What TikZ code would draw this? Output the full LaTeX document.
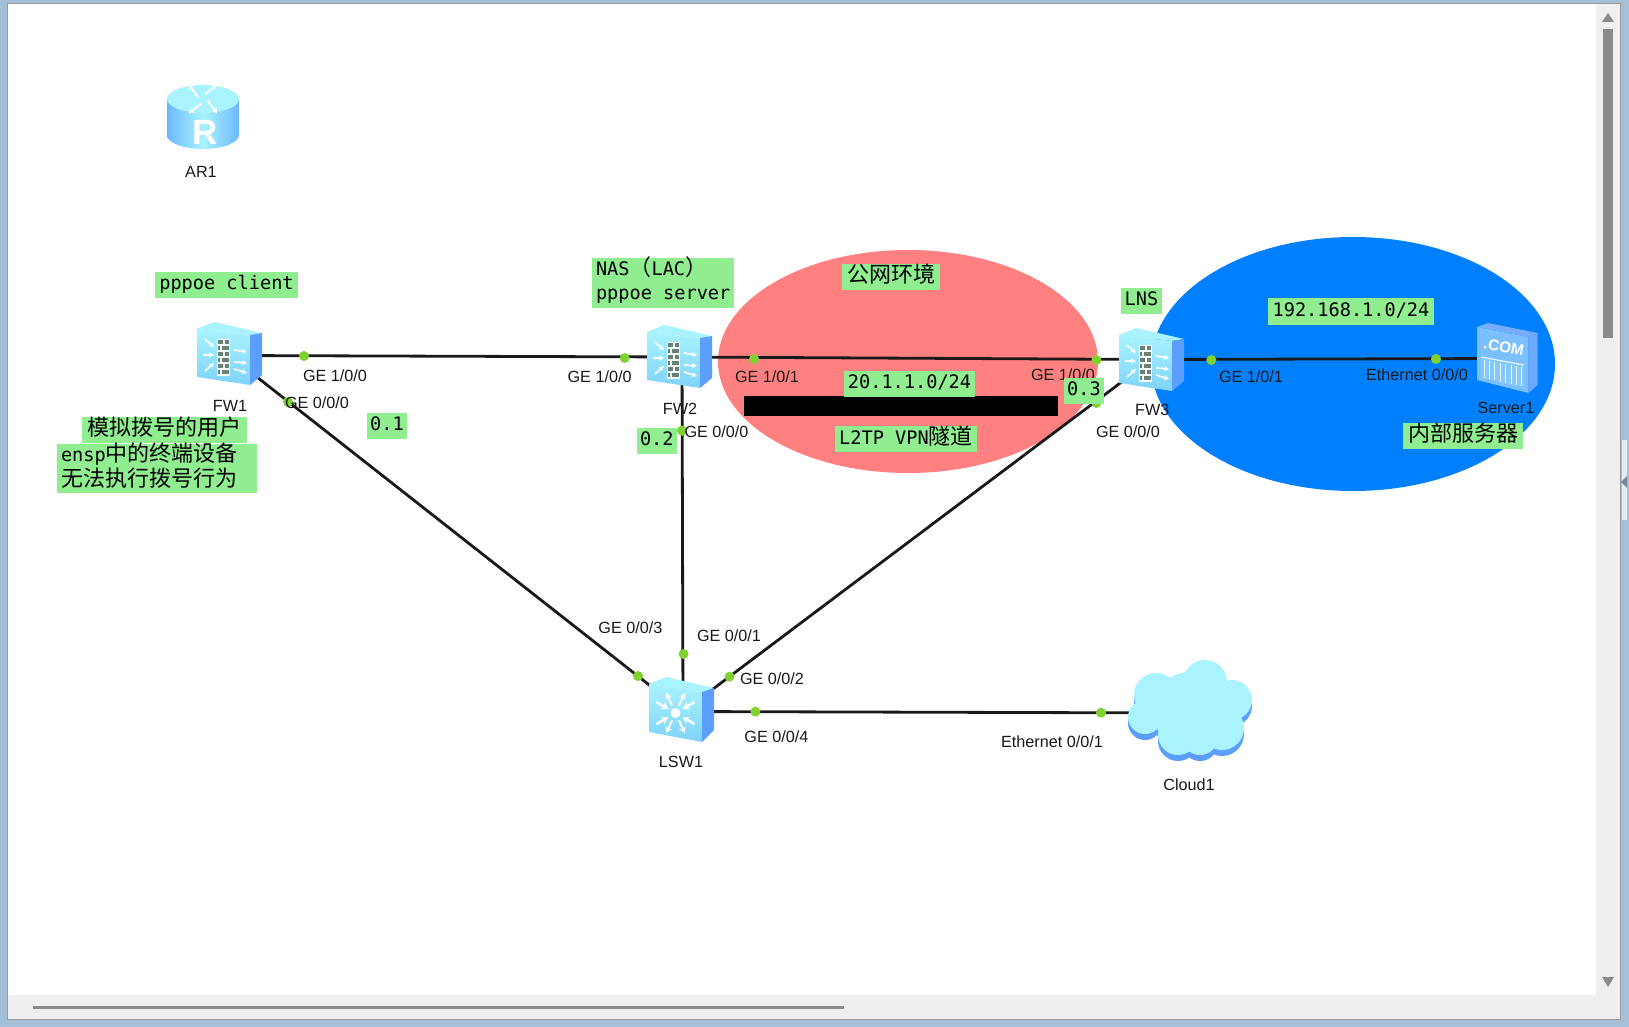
\documentclass[tikz,border=0pt]{standalone}
\usepackage{fontspec}
\setmainfont{Liberation Sans}
\setmonofont{DejaVu Sans Mono}
\newfontfamily\cjk{Noto Sans CJK SC}
\newcommand{\cjktext}[1]{{\fontsize{22}{24.5}\selectfont\cjk #1}}
\newcommand{\lift}[1]{\raisebox{3pt}[\height][\depth]{#1}}
\usetikzlibrary{arrows.meta}
\definecolor{framecol}{HTML}{A4BFD8}
\definecolor{panelcol}{HTML}{EFEFEF}
\definecolor{barcol}{HTML}{8A8A8A}
\definecolor{boxcol}{HTML}{90EE90}
\definecolor{redzone}{HTML}{FF8080}
\definecolor{bluezone}{HTML}{0080FF}
\definecolor{dotcol}{HTML}{7FD230}
\definecolor{iconlight}{HTML}{A9F3FF}
\definecolor{iconmid}{HTML}{7FD3FA}
\definecolor{iconside}{HTML}{5C9EFC}
\definecolor{brickcol}{HTML}{6E8074}
\tikzset{
  devnode/.style={inner sep=0pt,minimum size=0pt},
  portdot/.style={circle,fill=dotcol,inner sep=0pt,minimum size=10pt},
  portlabel/.style={inner sep=0pt,text=black!90,font=\fontsize{16.2}{18}\selectfont},
  greenbox/.style={fill=boxcol,inner sep=0pt,minimum height=26pt,align=flush left,
    font=\fontsize{18.6}{24.5}\selectfont\ttfamily},
  oneline/.style={text height=13pt,text depth=4pt},
  link/.style={line width=2.8pt,black!90},
  fwicon/.pic={
    \fill[iconlight] (0,7) -- (17,0) -- (65,11) -- (53,13) -- cycle;
    \shade[top color=iconlight,bottom color=iconmid] (0,7) -- (53,13) -- (53,63) -- (0,55) -- cycle;
    \fill[iconside] (53,13) -- (65,11) -- (65,53) -- (53,63) -- cycle;
    \fill[white!85!iconlight] (20,17) rectangle (33,54);
    \foreach \r in {0,2,4} {
      \fill[brickcol] (21,18+6*\r) rectangle (26,22+6*\r);
      \fill[brickcol] (27.5,18+6*\r) rectangle (32,22+6*\r);
      \fill[brickcol] (21,24+6*\r) rectangle (23,28+6*\r);
      \fill[brickcol] (24.5,24+6*\r) rectangle (32,28+6*\r);
    }
    \foreach \a/\b/\c/\d in {8/17/17/25,6/33/17/33,8/49/17/41,37/28/50/30,37/40/50/41,37/47/50/51}
      \draw[white,line width=1.6pt,-{Stealth[length=5pt,width=5pt]}] (\a,\b) -- (\c,\d);
  },
  swicon/.pic={
    \fill[iconlight] (0,7) -- (17,0) -- (65,11) -- (53,15) -- cycle;
    \shade[top color=iconlight,bottom color=iconmid] (0,7) -- (53,15) -- (53,65) -- (0,55) -- cycle;
    \fill[iconside] (53,15) -- (65,11) -- (65,53) -- (53,65) -- cycle;
    \fill[white] (26.5,36) circle (5);
    \foreach \a in {30,150,210,330}
      \draw[white,line width=2.4pt,{Stealth[length=7pt,width=8pt]}-] ([shift={(\a:8)}]26.5,36) -- ([shift={(\a:22)}]26.5,36);
    \foreach \a in {65,115,245,295}
      \draw[white,line width=2pt,-{Stealth[length=6pt,width=7pt]}] ([shift={(\a:8)}]26.5,36) -- ([shift={(\a:22)}]26.5,36);
  },
  srvicon/.pic={
    \fill[iconside!85!white] (0,4) -- (11,0) -- (60.5,10) -- (51.5,14) -- cycle;
    \fill[iconside!60!iconlight] (0,4) -- (51.5,14) -- (51.5,70) -- (0,57) -- cycle;
    \fill[iconside!90!white] (51.5,14) -- (60.5,10) -- (60.5,62) -- (51.5,70) -- cycle;
    \fill[iconlight!50!iconside] (4,34) -- (47,42) -- (47,65) -- (4,55) -- cycle;
    \draw[white,line width=1pt] (4,34) -- (47,42);
    \foreach \i in {0,...,7}
      \draw[white!80!iconlight,line width=1pt] (7+5.4*\i,37+1*\i) -- (7+5.4*\i,55+1.2*\i);
  },
  aricon/.pic={
    \shade[left color=iconside!50!iconmid,right color=iconside!50!iconmid,middle color=iconlight]
      (-36,14) -- (-36,50) arc[start angle=180,end angle=0,x radius=36,y radius=14] -- (36,14) -- cycle;
    \fill[iconlight] (0,14) ellipse[x radius=36,y radius=14];
    \foreach \a in {20,110,200,290}
      \draw[white,line width=1.8pt,-{Stealth[length=5pt,width=6pt]}]
        ([shift={(\a:5)}]0,14) -- ([shift={(\a+25:20)}]0,14);
  },
}
\begin{document}
\begin{tikzpicture}[x=1pt,y=-1pt]
\useasboundingbox (0,0) rectangle (1629,1027);
\fill[framecol] (0,0) rectangle (1629,1027);
\fill[panelcol,draw=gray!80] (7.5,3.5) rectangle (1620.5,1019);
\fill[white] (8,4) rectangle (1596,995);
\fill[barcol] (1603,29) -- (1613,29) -- (1613,338) -- (1603,338) -- cycle;
\fill[barcol] (1602,22) -- (1614,22) -- (1608,13) -- cycle;
\fill[barcol] (1602,977) -- (1614,977) -- (1608,987) -- cycle;
\fill[barcol] (33,1005.5) rectangle (844,1008.5);
\fill[white!70!framecol] (1622,440) rectangle (1627,520);
\fill[framecol!70!black] (1621,482) -- (1627,476) -- (1627,488) -- cycle;
\fill[redzone] (908,361.5) ellipse[x radius=190,y radius=111.5];
\fill[bluezone] (1353,364) ellipse[x radius=202,y radius=127];
\fill[black] (743.5,396) rectangle (1058,416);
\node[devnode] (FW1) at (229.5,355.5) {};
\node[devnode] (FW2) at (682,357) {};
\node[devnode] (FW3) at (1151.5,359.5) {};
\node[devnode] (Server1) at (1507,358.5) {};
\node[devnode] (LSW1) at (683,711.5) {};
\node[devnode] (Cloud1) at (1190,713) {};
\draw[link] (FW1) -- (FW2);
\draw[link] (FW2) -- (FW3);
\draw[link] (FW3) -- (Server1);
\draw[link] (FW1) -- (LSW1);
\draw[link] (FW2) -- (LSW1);
\draw[link] (FW3) -- (LSW1);
\draw[link] (LSW1) -- (Cloud1);
\pic at (203,85) {aricon};
\node[text=white,inner sep=0pt,font=\fontsize{35}{35}\selectfont\bfseries] (routerR) at (205,132) {R};
\pic at (197,322) {fwicon};
\pic at (647,325) {fwicon};
\pic at (1119,328) {fwicon};
\pic at (649,677) {swicon};
\pic at (1477,323) {srvicon};
\node[text=white,inner sep=0pt,rotate=-11,font=\fontsize{15.5}{16}\selectfont\bfseries] (comtext) at (1504,347) {.COM};
\foreach \s/\c in {6/iconside,0/iconlight} {
  \foreach \cx/\cy/\cr in {1205/682/22,1156/695/22,1232/700/20,1145/717/17,1178/735/20,1222/728/22,1190/710/38,1200/737/18}
    \fill[\c] (\cx,\cy+\s) circle (\cr);
}
\foreach \px/\py [count=\i] in {304/356,288/402,624.7/358,754/359,682/430.7,1096.4/360,1096.4/403,1211.3/360,1436/359,638/676,683.6/654,729.5/676.7,755.4/711.7,1101/712.7}
  \node[portdot] (dot\i) at (\px,\py) {};
\node[portlabel] (nameAR1) at (201,172) {AR1};
\node[portlabel] (nameFW1) at (230,405.7) {FW1};
\node[portlabel] (nameFW2) at (680,409) {FW2};
\node[portlabel] (nameFW3) at (1152.3,410) {FW3};
\node[portlabel] (nameServer1) at (1506,408) {Server1};
\node[portlabel] (nameLSW1) at (681,761.7) {LSW1};
\node[portlabel] (nameCloud1) at (1189,785) {Cloud1};
\node[portlabel] (fw1a) at (335,376) {GE 1/0/0};
\node[portlabel] (fw1b) at (317,403) {GE 0/0/0};
\node[portlabel] (fw2a) at (599.6,376.7) {GE 1/0/0};
\node[portlabel] (fw2b) at (767,376.7) {GE 1/0/1};
\node[portlabel] (fw2c) at (716.5,431.7) {GE 0/0/0};
\node[portlabel] (fw3a) at (1063,375) {GE 1/0/0};
\node[portlabel] (fw3b) at (1128,431.7) {GE 0/0/0};
\node[portlabel] (fw3c) at (1251,377) {GE 1/0/1};
\node[portlabel] (srva) at (1417,375) {Ethernet 0/0/0};
\node[portlabel] (lswa) at (630.4,628) {GE 0/0/3};
\node[portlabel] (lswb) at (729,635.7) {GE 0/0/1};
\node[portlabel] (lswc) at (772,679) {GE 0/0/2};
\node[portlabel] (lswd) at (776.4,736.7) {GE 0/0/4};
\node[portlabel] (cldb) at (1052,742) {Ethernet 0/0/1};
\node[greenbox,oneline,minimum width=143pt] (boxClient) at (226.5,285) {pppoe client};
\node[greenbox,oneline,minimum width=40pt] (boxA) at (387,425.5) {0.1};
\node[greenbox,minimum width=165pt] (boxUser) at (164.5,430) {\lift{\cjktext{模拟拨号的用户}}};
\node[greenbox,text width=192pt,inner xsep=4pt,minimum height=49pt] (boxEnsp) at (157,468.5) {\lift{ensp\cjktext{中的终端设备}}\\\lift{\cjktext{无法执行拨号行为}}};
\node[greenbox,text width=134pt,inner xsep=4pt,minimum height=50pt] (boxNas) at (663,283) {\lift{NAS\cjktext{（}LAC\cjktext{）}}\\\lift{pppoe server}};
\node[greenbox,minimum width=98pt] (boxPublic) at (891,277) {\lift{\cjktext{公网环境}}};
\node[greenbox,oneline,minimum width=131pt] (boxNet) at (909.5,384) {20.1.1.0/24};
\node[greenbox,minimum width=142pt] (boxTunnel) at (906,439) {\lift{L2TP VPN\cjktext{隧道}}};
\node[greenbox,oneline,minimum width=40.5pt] (boxB) at (656.8,440.5) {0.2};
\node[greenbox,oneline,minimum width=40pt] (boxC) at (1084,391) {0.3};
\node[greenbox,oneline,minimum width=41pt] (boxLns) at (1141.5,301) {LNS};
\node[greenbox,oneline,minimum width=166pt,minimum height=27pt] (boxLan) at (1351,311.5) {192.168.1.0/24};
\node[greenbox,minimum width=120pt] (boxInner) at (1463,436) {\lift{\cjktext{内部服务器}}};
\end{tikzpicture}
\end{document}
